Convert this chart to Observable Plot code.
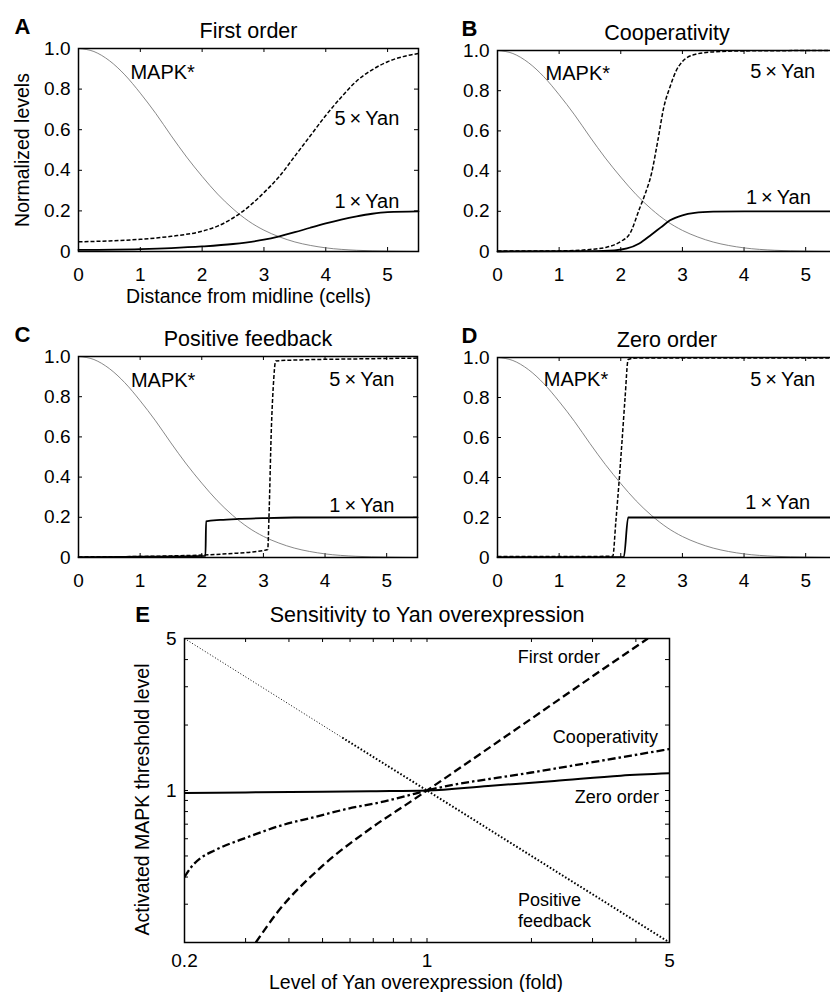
<!DOCTYPE html>
<html><head><meta charset="utf-8">
<script src="https://cdn.jsdelivr.net/npm/d3@7"></script>
<script src="https://cdn.jsdelivr.net/npm/@observablehq/plot@0.6"></script>
<style>
body{margin:0;background:#fff;}
#fig{position:relative;width:830px;height:992px;overflow:hidden;background:#fff;}
#fig svg{position:absolute;overflow:visible;}
</style></head><body><div id="fig"></div>
<script>
const FONT = '"Liberation Sans", Arial, Helvetica, sans-serif';

// ---- Panels A–D data: [distance (cells), normalized level]
const distanceTicks = [0, 1, 2, 3, 4, 5];
const levelTicks = [0, 0.2, 0.4, 0.6, 0.8, 1.0];

const mapk = [[0,1.0],[0.25,0.985],[0.5,0.94],[0.75,0.87],[1.0,0.78],[1.25,0.68],[1.5,0.57],[1.75,0.465],[2.0,0.37],[2.25,0.283],[2.5,0.21],[2.75,0.15],[3.0,0.105],[3.25,0.072],[3.5,0.047],[3.75,0.03],[4.0,0.018],[4.5,0.006],[5.0,0.002],[5.5,0.0]];

const firstOrder5x = [[0,0.048],[0.5,0.052],[1.0,0.06],[1.5,0.075],[2.0,0.10],[2.25,0.125],[2.5,0.165],[2.75,0.22],[3.0,0.29],[3.25,0.37],[3.5,0.47],[3.75,0.57],[4.0,0.67],[4.25,0.76],[4.5,0.84],[4.75,0.895],[5.0,0.935],[5.25,0.96],[5.5,0.975]];
const firstOrder1x = [[0,0.008],[1.0,0.012],[1.5,0.017],[2.0,0.025],[2.5,0.037],[3.0,0.058],[3.25,0.075],[3.5,0.095],[3.75,0.117],[4.0,0.138],[4.25,0.157],[4.5,0.173],[4.75,0.186],[5.0,0.194],[5.5,0.198]];

const coop5x = [[0,0.002],[1.0,0.003],[1.5,0.01],[1.75,0.02],[2.0,0.05],[2.15,0.09],[2.3,0.21],[2.4,0.29],[2.5,0.39],[2.6,0.55],[2.7,0.72],[2.8,0.82],[2.9,0.9],[3.0,0.945],[3.2,0.98],[3.5,0.993],[4.0,0.998],[5.5,1.0]];
const coop1x = [[0,0.0],[1.5,0.002],[1.9,0.006],[2.1,0.015],[2.3,0.04],[2.5,0.085],[2.65,0.12],[2.8,0.155],[3.0,0.18],[3.2,0.192],[3.5,0.198],[4.0,0.2],[5.5,0.2]];

const posfb5x = [[0,0.003],[1.0,0.005],[1.5,0.008],[2.0,0.012],[2.5,0.02],[2.8,0.027],[3.07,0.04],[3.09,0.2],[3.13,0.65],[3.16,0.85],[3.2,0.978],[3.6,0.983],[4.5,0.988],[5.5,0.992]];
const posfb1x = [[0,0.002],[1.0,0.004],[2.06,0.008],[2.07,0.18],[2.3,0.187],[2.6,0.192],[3.0,0.196],[3.5,0.199],[5.5,0.2]];

const zero5x = [[0,0.005],[1.0,0.005],[1.87,0.006],[1.92,0.18],[1.97,0.37],[2.02,0.58],[2.07,0.8],[2.12,0.99],[2.25,0.997],[5.5,0.998]];
const zero1x = [[0,0.002],[2.05,0.003],[2.12,0.2],[5.5,0.2]];

// ---- Panel E data: [Yan overexpression (fold), activated MAPK threshold]
const foldTicks = [0.2, 1, 5];
const thresholdTicks = [1, 5];
const logMinor = [0.3, 0.4, 0.5, 0.6, 0.7, 0.8, 0.9, 1, 2, 3, 4];

const sensFirstOrder = [[0.321,0.2],[0.371,0.276],[0.495,0.444],[0.675,0.655],[0.919,0.912],[1,1],[2,2.14],[3,3.35],[4.33,5]];
const sensCooperativity = [[0.2,0.40],[0.209,0.444],[0.223,0.49],[0.244,0.53],[0.304,0.61],[0.379,0.69],[0.473,0.754],[0.59,0.824],[0.735,0.883],[0.919,0.966],[1,1],[2,1.21],[3,1.35],[5,1.55]];
const sensZeroOrder = [[0.2,0.975],[0.3,0.98],[0.5,0.987],[0.7,0.993],[1,1],[1.5,1.05],[2.33,1.105],[3.62,1.17],[5,1.2]];
const sensPosFbLow = [[0.2,5],[0.57,1.75]];
const sensPosFbHigh = [[0.57,1.75],[1,1],[2,0.5],[5,0.2]];

const fig = document.getElementById("fig");
const px = p => p[0], py = p => p[1];

function panel(o) {
  const fh = o.height - o.mt - o.mb;
  const fw = o.width - o.ml - o.mr;
  const inner = levelTicks.filter(v => v > 0 && v < 1);
  const p = Plot.plot({
    width: o.width, height: o.height,
    marginLeft: o.ml, marginRight: o.mr, marginTop: o.mt, marginBottom: o.mb,
    style: {background: "transparent", overflow: "visible", fontFamily: FONT, fontSize: "19px", color: "black"},
    x: {domain: [0, 5.5], ticks: distanceTicks, tickFormat: d => String(d), tickSize: 0, tickPadding: 16, label: null},
    y: {domain: [0, 1], ticks: levelTicks, tickFormat: d => d === 0 ? "0" : d.toFixed(1), tickSize: 0, tickPadding: 8, label: null},
    marks: [
      Plot.tickX(distanceTicks.slice(1), {x: d => d, insetTop: fh - 4, stroke: "black", strokeWidth: 1}),
      Plot.tickX(distanceTicks.slice(1), {x: d => d, insetBottom: fh - 4, stroke: "black", strokeWidth: 1}),
      Plot.tickY(inner, {y: d => d, insetRight: fw - 4, stroke: "black", strokeWidth: 1}),
      Plot.tickY(inner, {y: d => d, insetLeft: fw - 4, stroke: "black", strokeWidth: 1}),
      Plot.line(mapk, {x: px, y: py, curve: "monotone-x", stroke: "#6a6a6a", strokeWidth: 0.8}),
      Plot.line(o.s5, {x: px, y: py, curve: "monotone-x", stroke: "black", strokeWidth: 1.5, strokeDasharray: "4,2", strokeLinecap: "butt"}),
      Plot.line(o.s1, {x: px, y: py, curve: "monotone-x", stroke: "black", strokeWidth: 1.8}),
      Plot.frame({stroke: "black", strokeWidth: 1.5}),
      Plot.text(o.labels, {x: d => d.x, y: d => d.y, text: d => d.t, textAnchor: "start", lineAnchor: "middle", fontSize: 20, fill: "black"}),
      Plot.text([o.title], {frameAnchor: "top", textAnchor: "middle", lineAnchor: "middle", dy: -17, fontSize: 21.5, fill: "black"}),
      Plot.text([o.letter], {frameAnchor: "top-left", textAnchor: "middle", lineAnchor: "middle", dx: o.letterDx, dy: -22, fontSize: 22, fontWeight: "bold", fill: "black"}),
      ...(o.xlabel ? [Plot.text([o.xlabel], {frameAnchor: "bottom", textAnchor: "middle", lineAnchor: "middle", dy: 45, fontSize: 19.5, fill: "black"})] : []),
      ...(o.ylabel ? [Plot.text([o.ylabel], {frameAnchor: "left", textAnchor: "middle", lineAnchor: "middle", dx: -56, rotate: -90, fontSize: 19.5, fill: "black"})] : [])
    ]
  });
  p.style.left = o.left + "px";
  p.style.top = o.top + "px";
  fig.append(p);
}

const lab = (x, y, t) => ({x, y, t});
const X5 = "5\u2009\u00d7\u2009Yan", X1 = "1\u2009\u00d7\u2009Yan";

panel({left: 0, top: 0, width: 422, height: 300, ml: 78, mr: 4, mt: 48, mb: 49,
  s5: firstOrder5x, s1: firstOrder1x, title: "First order", letter: "A", letterDx: -56,
  xlabel: "Distance from midline (cells)", ylabel: "Normalized levels",
  labels: [lab(0.84, 0.88, "MAPK*"), lab(4.14, 0.655, X5), lab(4.14, 0.246, X1)]});
panel({left: 410, top: 0, width: 430, height: 300, ml: 87, mr: 4, mt: 50, mb: 49,
  s5: coop5x, s1: coop1x, title: "Cooperativity", letter: "B", letterDx: -28,
  labels: [lab(0.78, 0.886, "MAPK*"), lab(4.1, 0.896, X5), lab(4.03, 0.269, X1)]});
panel({left: 0, top: 300, width: 422, height: 300, ml: 78, mr: 5, mt: 56, mb: 43,
  s5: posfb5x, s1: posfb1x, title: "Positive feedback", letter: "C", letterDx: -56,
  labels: [lab(0.85, 0.88, "MAPK*"), lab(4.07, 0.886, X5), lab(4.07, 0.259, X1)]});
panel({left: 410, top: 300, width: 430, height: 300, ml: 87, mr: 4, mt: 57, mb: 43,
  s5: zero5x, s1: zero1x, title: "Zero order", letter: "D", letterDx: -28,
  labels: [lab(0.75, 0.89, "MAPK*"), lab(4.1, 0.89, X5), lab(4.02, 0.274, X1)]});

// ---- Panel E
(function () {
  const W = 830, H = 412, ml = 184, mr = 161, mt = 58, mb = 50;
  const fh = H - mt - mb, fw = W - ml - mr;
  const ln = (d, st) => Plot.line(d, {x: px, y: py, curve: "monotone-x", stroke: "black", strokeLinecap: "butt", ...st});
  const p = Plot.plot({
    width: W, height: H, marginLeft: ml, marginRight: mr, marginTop: mt, marginBottom: mb,
    style: {background: "transparent", overflow: "visible", fontFamily: FONT, fontSize: "19px", color: "black"},
    x: {type: "log", domain: [0.2, 5], ticks: foldTicks, tickFormat: d => String(d), tickSize: 0, tickPadding: 11, label: null},
    y: {type: "log", domain: [0.2, 5], ticks: thresholdTicks, tickFormat: d => String(d), tickSize: 0, tickPadding: 8, label: null},
    marks: [
      Plot.tickX(logMinor, {x: d => d, insetTop: fh - 4, stroke: "black"}),
      Plot.tickX(logMinor, {x: d => d, insetBottom: fh - 4, stroke: "black"}),
      Plot.tickY(logMinor, {y: d => d, insetRight: fw - 4, stroke: "black"}),
      Plot.tickY(logMinor, {y: d => d, insetLeft: fw - 4, stroke: "black"}),
      ln(sensPosFbLow, {strokeWidth: 1, strokeDasharray: "1,2", clip: true}),
      ln(sensPosFbHigh, {strokeWidth: 2, strokeDasharray: "1.6,2", clip: true}),
      ln(sensFirstOrder, {strokeWidth: 2.3, strokeDasharray: "8,4", clip: true}),
      ln(sensCooperativity, {strokeWidth: 2.3, strokeDasharray: "8,3,2.5,3", clip: true}),
      ln(sensZeroOrder, {strokeWidth: 2, clip: true}),
      Plot.frame({stroke: "black", strokeWidth: 1.5}),
      Plot.text([
        {x: 3.15, y: 4.09, t: "First order"},
        {x: 4.63, y: 1.75, t: "Cooperativity"},
        {x: 4.66, y: 0.929, t: "Zero order"}
      ], {x: d => d.x, y: d => d.y, text: d => d.t, textAnchor: "end", lineAnchor: "middle", fontSize: 18, fill: "black"}),
      Plot.text([{x: 1.83, y: 0.283, t: "Positive\nfeedback"}], {x: d => d.x, y: d => d.y, text: d => d.t, textAnchor: "start", lineAnchor: "middle", fontSize: 18, lineHeight: 1.2, fill: "black"}),
      Plot.text(["Sensitivity to Yan overexpression"], {frameAnchor: "top", textAnchor: "middle", lineAnchor: "middle", dy: -23, fontSize: 21.5, fill: "black"}),
      Plot.text(["E"], {frameAnchor: "top-left", textAnchor: "middle", lineAnchor: "middle", dx: -42, dy: -24, fontSize: 22, fontWeight: "bold", fill: "black"}),
      Plot.text(["Activated MAPK threshold level"], {frameAnchor: "left", textAnchor: "middle", lineAnchor: "middle", dx: -42, dy: 9, rotate: -90, fontSize: 19.5, fill: "black"}),
      Plot.text(["Level of Yan overexpression (fold)"], {frameAnchor: "bottom", textAnchor: "middle", lineAnchor: "middle", dx: -11, dy: 40, fontSize: 19.5, fill: "black"})
    ]
  });
  p.style.left = "0px";
  p.style.top = "580px";
  fig.append(p);
})();
</script>
</body></html>
